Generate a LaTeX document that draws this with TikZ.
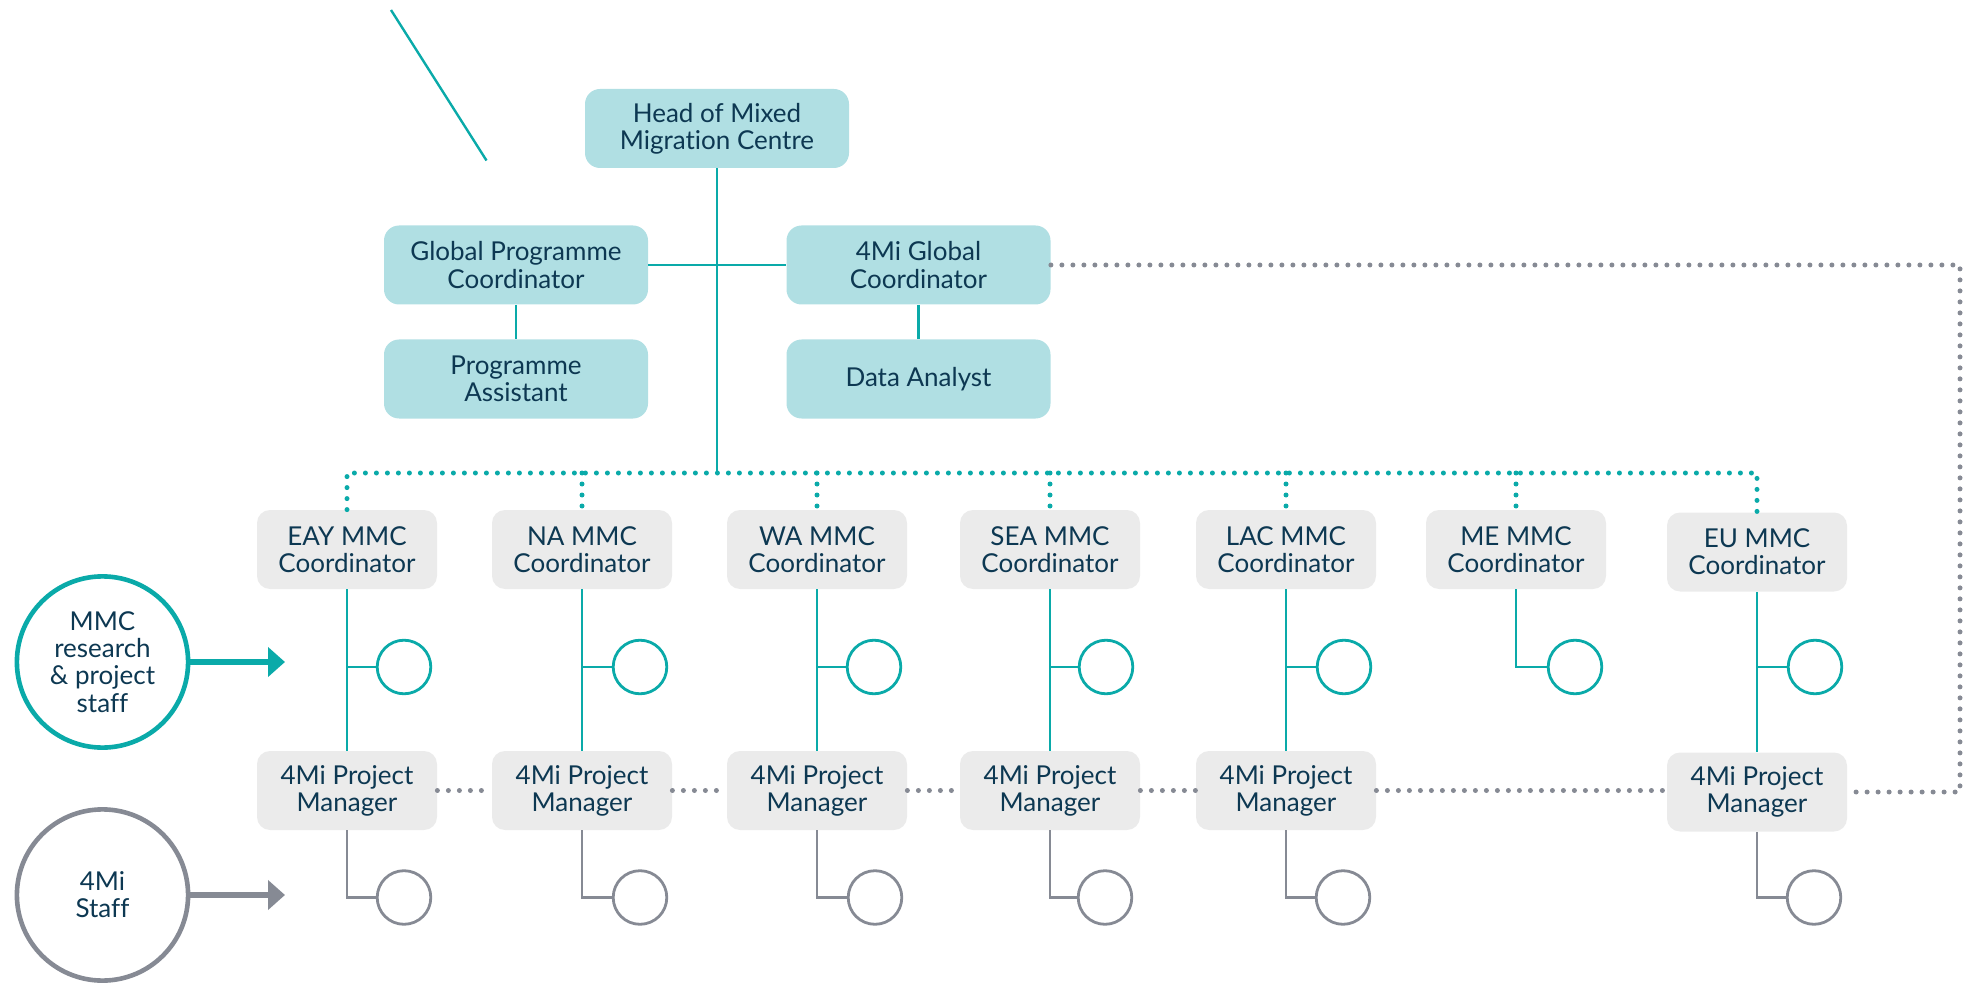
\documentclass[tikz,border=0pt]{standalone}
\usepackage{fontspec}
\setmainfont{Lato}[Ligatures={NoCommon,NoRequired,NoContextual}]
\usetikzlibrary{arrows.meta,positioning}

\definecolor{mmcteal}{HTML}{0AAAA9}
\definecolor{mmclight}{HTML}{B0DFE3}
\definecolor{mmcgrey}{HTML}{EBEBEB}
\definecolor{mmcline}{HTML}{868A94}
\definecolor{mmctext}{HTML}{0D3852}

\tikzset{
	every node/.style={text=mmctext, font=\fontsize{13}{13.6}\selectfont, align=center, inner sep=0pt},
	headbox/.style={fill=mmclight, rounded corners=7.5pt, minimum width=132pt, minimum height=39.5pt},
	regionbox/.style={fill=mmcgrey, rounded corners=6.5pt, minimum width=90pt, minimum height=39.5pt},
	tealline/.style={draw=mmcteal, line width=1.2pt},
	greyline/.style={draw=mmcline, line width=1.2pt},
	tealdots/.style={draw=mmcteal, line width=2.5pt, line cap=round, dash pattern=on 0pt off 5.5pt},
	greydots/.style={draw=mmcline, line width=2.5pt, line cap=round, dash pattern=on 0pt off 5.5pt},
	tealring/.style={circle, draw=mmcteal, line width=1.4pt, minimum size=26.8pt},
	greyring/.style={circle, draw=mmcline, line width=1.4pt, minimum size=26.8pt},
	tealkey/.style={circle, draw=mmcteal, line width=2.3pt, minimum size=85.6pt},
	greykey/.style={circle, draw=mmcline, line width=2.3pt, minimum size=85.6pt},
	keyarrow/.style={line width=2.7pt, -{Triangle[length=8.5pt, width=14.5pt]}}
}

\begin{document}
\begin{tikzpicture}[x=0.5pt, y=-0.5pt]
		%%%%% START %%%%%
		\useasboundingbox (0, 0) rectangle (1966, 984);
		
		\draw[tealline] (391, 10) -- (486.5, 160.5);
		
		% head office
		\node[headbox] (head) at (717, 128.5) {Head of Mixed\\Migration Centre};
		\node[headbox] (gpc) at (516, 265) {Global Programme\\Coordinator};
		\node[headbox] (gcoord) at (918.5, 265) {4Mi Global\\Coordinator};
		\node[headbox] (assistant) at (516, 379) {Programme\\Assistant};
		\node[headbox] (analyst) at (918.5, 379) {Data Analyst};
		\coordinate (hub) at (717, 473);
		\coordinate (rim) at (1960, 0);
		
		\draw[tealline] (head) -- (hub);
		\draw[tealline] (gpc) -- (gcoord);
		\draw[tealline] (gpc) -- (assistant);
		\draw[tealline] (gcoord) -- (analyst);
		
		% regional coordinators
		\node[regionbox] (eay) at (347, 549.5) {EAY MMC\\Coordinator};
		\node[regionbox] (na) at (582, 549.5) {NA MMC\\Coordinator};
		\node[regionbox] (wa) at (817, 549.5) {WA MMC\\Coordinator};
		\node[regionbox] (sea) at (1050, 549.5) {SEA MMC\\Coordinator};
		\node[regionbox] (lac) at (1286, 549.5) {LAC MMC\\Coordinator};
		\node[regionbox] (me) at (1516, 549.5) {ME MMC\\Coordinator};
		\node[regionbox] (eu) at (1757, 552) {EU MMC\\Coordinator};
		
		\draw[tealdots] (eay.north) -- (eay.north |- hub) -- (eu.north |- hub) -- (eu.north);
		\draw[tealdots] (na.north |- hub) -- (na.north);
		\draw[tealdots] (wa.north |- hub) -- (wa.north);
		\draw[tealdots] (sea.north |- hub) -- (sea.north);
		\draw[tealdots] (lac.north |- hub) -- (lac.north);
		\draw[tealdots] (me.north |- hub) -- (me.north);
		
		% project managers
		\node[regionbox] (eaypm) at (347, 790.5) {4Mi Project\\Manager};
		\node[regionbox] (napm) at (582, 790.5) {4Mi Project\\Manager};
		\node[regionbox] (wapm) at (817, 790.5) {4Mi Project\\Manager};
		\node[regionbox] (seapm) at (1050, 790.5) {4Mi Project\\Manager};
		\node[regionbox] (lacpm) at (1286, 790.5) {4Mi Project\\Manager};
		\node[regionbox] (eupm) at (1757, 792) {4Mi Project\\Manager};
		
		\draw[tealline] (eay) -- (eaypm);
		\draw[tealline] (na) -- (napm);
		\draw[tealline] (wa) -- (wapm);
		\draw[tealline] (sea) -- (seapm);
		\draw[tealline] (lac) -- (lacpm);
		\draw[tealline] (eu) -- (eupm);
		
		\draw[greydots] (eaypm) -- (napm);
		\draw[greydots] (napm) -- (wapm);
		\draw[greydots] (wapm) -- (seapm);
		\draw[greydots] (seapm) -- (lacpm);
		\draw[greydots] (lacpm.east) -- (eupm.west |- lacpm.east);
		\draw[greydots] (gcoord) -- (gcoord -| rim) -- (rim |- eupm) -- (eupm);
		
		% research and project staff
		\node[tealring] (eayring) at (404, 667) {};
		\node[tealring] (naring) at (640, 667) {};
		\node[tealring] (waring) at (874, 667) {};
		\node[tealring] (searing) at (1106, 667) {};
		\node[tealring] (lacring) at (1344, 667) {};
		\node[tealring] (mering) at (1575, 667) {};
		\node[tealring] (euring) at (1815, 667) {};
		
		\draw[tealline] (eayring -| eay.south) -- (eayring);
		\draw[tealline] (naring -| na.south) -- (naring);
		\draw[tealline] (waring -| wa.south) -- (waring);
		\draw[tealline] (searing -| sea.south) -- (searing);
		\draw[tealline] (lacring -| lac.south) -- (lacring);
		\draw[tealline] (me.south) |- (mering);
		\draw[tealline] (euring -| eu.south) -- (euring);
		
		% 4Mi staff
		\node[greyring] (eaystaff) at (404, 897.5) {};
		\node[greyring] (nastaff) at (640, 897.5) {};
		\node[greyring] (wastaff) at (875, 897.5) {};
		\node[greyring] (seastaff) at (1105, 897.5) {};
		\node[greyring] (lacstaff) at (1343, 897.5) {};
		\node[greyring] (eustaff) at (1814, 897.5) {};
		
		\draw[greyline] (eaypm.south) |- (eaystaff);
		\draw[greyline] (napm.south) |- (nastaff);
		\draw[greyline] (wapm.south) |- (wastaff);
		\draw[greyline] (seapm.south) |- (seastaff);
		\draw[greyline] (lacpm.south) |- (lacstaff);
		\draw[greyline] (eupm.south) |- (eustaff);
		
		% key
		\node[tealkey] (mmckey) at (102.5, 662) {MMC\\research\\\& project\\staff};
		\node[greykey] (staffkey) at (102.5, 895) {4Mi\\Staff};
		\coordinate (mmctip) at (285, 662);
		\coordinate (stafftip) at (285, 895);
		
		\draw[keyarrow, mmcteal] (mmckey) -- (mmctip);
		\draw[keyarrow, mmcline] (staffkey) -- (stafftip);
		
		%%%%% END %%%%%
	\end{tikzpicture}
\end{document}
